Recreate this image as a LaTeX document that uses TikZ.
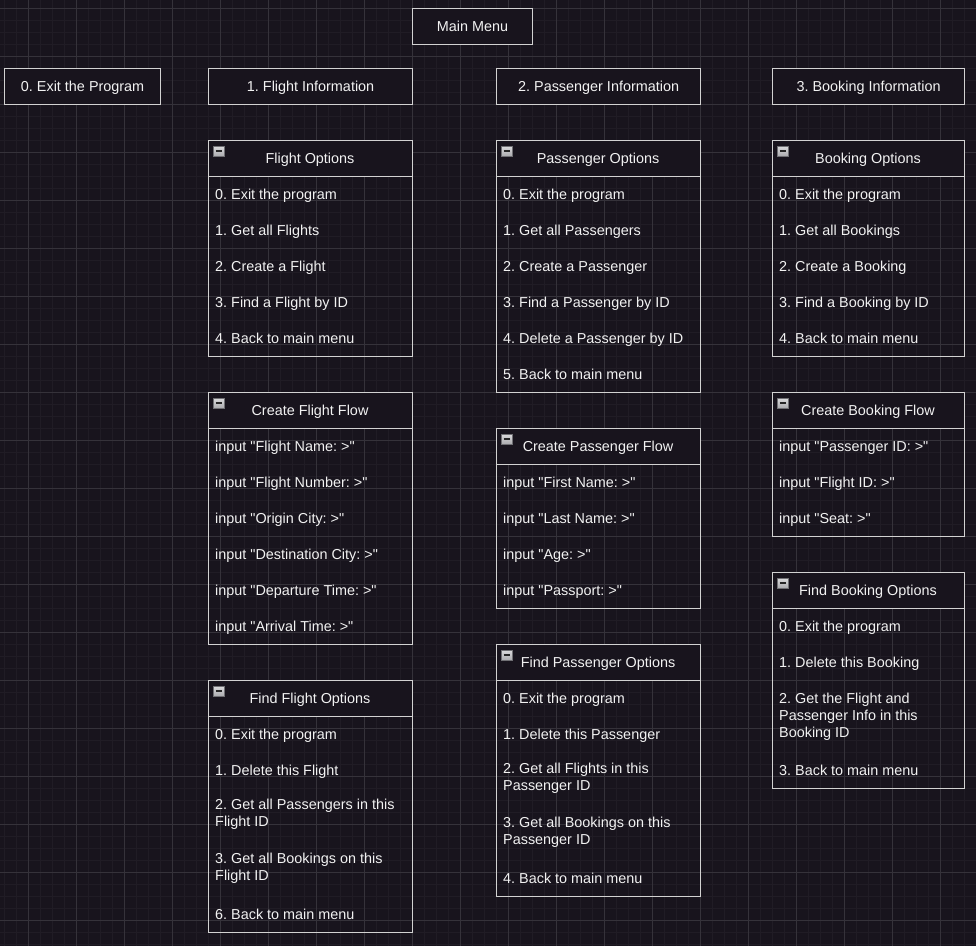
\documentclass[tikz,border=0pt]{standalone}
\usepackage{fontspec}
\setmainfont{Liberation Sans}[Ligatures=TeXOff]
\frenchspacing
\definecolor{bg}{HTML}{18141D}
\definecolor{gridminor}{HTML}{201C25}
\definecolor{gridmajor}{HTML}{35323A}
\definecolor{edge}{HTML}{D2D2D2}
\definecolor{ink}{HTML}{F2F2F2}
\definecolor{iconfill}{HTML}{BCBCC0}
\definecolor{iconedge}{HTML}{707074}
\begin{document}
\begin{tikzpicture}[x=1pt,y=-1pt,
  every node/.style={font=\fontsize{14.4}{17}\selectfont\frenchspacing, text=ink},
  plainbox/.style={draw=edge, line width=1.2pt, fill=bg, minimum width=#1,
    minimum height=36pt, inner sep=0pt, anchor=north west,
    text height=10.3pt, text depth=0pt},
  listhead/.style={draw=edge, line width=1.2pt, fill=bg, minimum width=#1,
    minimum height=36pt, inner sep=0pt, anchor=north west},
  headtext/.style={inner sep=0pt, anchor=center, text height=10.3pt, text depth=0pt},
  listbody/.style 2 args={draw=edge, line width=1.2pt, minimum width=#1,
    minimum height=#2, inner sep=0pt, anchor=north west},
  item/.style={anchor=north west, inner sep=0pt, align=left, yshift=6.75pt,
    execute at begin node=\strut},
  collapse/.pic={
    \draw[draw=iconedge, line width=0.8pt, top color=iconfill!55!white, bottom color=iconfill!90!black] (0,0) rectangle (11,10.5);
    \draw[line width=1.8pt, black!85] (2.5,5.25) -- (8.5,5.25);
  }
]
\useasboundingbox (0,0) rectangle (976,946);
\fill[bg] (0,0) rectangle (976,946);
\begin{scope}
\clip (0,0) rectangle (976,946);
\foreach \gx in {4,16,...,976} \draw[gridminor, line width=0.8pt] (\gx,0) -- (\gx,946);
\foreach \gy in {8,20,...,946} \draw[gridminor, line width=0.8pt] (0,\gy) -- (976,\gy);
\foreach \gx in {28,76,...,976} \draw[gridmajor, line width=0.8pt] (\gx,0) -- (\gx,946);
\foreach \gy in {8,56,...,946} \draw[gridmajor, line width=0.8pt] (0,\gy) -- (976,\gy);
\end{scope}

% top row
\node[plainbox=120pt] (main) at (412,8) {Main Menu};
\node[plainbox=156pt] (exit) at (4,68) {0. Exit the Program};
\node[plainbox=204pt] (finfo) at (208,68) {1. Flight Information};
\node[plainbox=204pt] (pinfo) at (496,68) {2. Passenger Information};
\node[plainbox=192pt] (binfo) at (772,68) {3. Booking Information};

% ---------- Flight column ----------
\node[listbody={204pt}{180pt}] (fobody) at (208,176) {};
\node[listhead=204pt] (fohead) at (208,140) {};
\node[headtext] (fotitle) at (310,158) {Flight Options};
\pic at (213,146) {collapse};
\node[item] (fo0) at (215,194) {0. Exit the program};
\node[item] (fo1) at (215,230) {1. Get all Flights};
\node[item] (fo2) at (215,266) {2. Create a Flight};
\node[item] (fo3) at (215,302) {3. Find a Flight by ID};
\node[item] (fo4) at (215,338) {4. Back to main menu};

\node[listbody={204pt}{216pt}] (cfbody) at (208,428) {};
\node[listhead=204pt] (cfhead) at (208,392) {};
\node[headtext] (cftitle) at (310,410) {Create Flight Flow};
\pic at (213,398) {collapse};
\node[item] (cf0) at (215,446) {input "Flight Name: >"};
\node[item] (cf1) at (215,482) {input "Flight Number: >"};
\node[item] (cf2) at (215,518) {input "Origin City: >"};
\node[item] (cf3) at (215,554) {input "Destination City: >"};
\node[item] (cf4) at (215,590) {input "Departure Time: >"};
\node[item] (cf5) at (215,626) {input "Arrival Time: >"};

\node[listbody={204pt}{216pt}] (ffbody) at (208,716) {};
\node[listhead=204pt] (ffhead) at (208,680) {};
\node[headtext] (fftitle) at (310,698) {Find Flight Options};
\pic at (213,686) {collapse};
\node[item] (ff0) at (215,734) {0. Exit the program};
\node[item] (ff1) at (215,770) {1. Delete this Flight};
\node[item] (ff2) at (215,806) {2. Get all Passengers in this\\Flight ID};
\node[item] (ff3) at (215,860) {3. Get all Bookings on this\\Flight ID};
\node[item] (ff4) at (215,914) {6. Back to main menu};

% ---------- Passenger column ----------
\node[listbody={204pt}{216pt}] (pobody) at (496,176) {};
\node[listhead=204pt] (pohead) at (496,140) {};
\node[headtext] (potitle) at (598,158) {Passenger Options};
\pic at (501,146) {collapse};
\node[item] (po0) at (503,194) {0. Exit the program};
\node[item] (po1) at (503,230) {1. Get all Passengers};
\node[item] (po2) at (503,266) {2. Create a Passenger};
\node[item] (po3) at (503,302) {3. Find a Passenger by ID};
\node[item] (po4) at (503,338) {4. Delete a Passenger by ID};
\node[item] (po5) at (503,374) {5. Back to main menu};

\node[listbody={204pt}{144pt}] (cpbody) at (496,464) {};
\node[listhead=204pt] (cphead) at (496,428) {};
\node[headtext] (cptitle) at (598,446) {Create Passenger Flow};
\pic at (501,434) {collapse};
\node[item] (cp0) at (503,482) {input "First Name: >"};
\node[item] (cp1) at (503,518) {input "Last Name: >"};
\node[item] (cp2) at (503,554) {input "Age: >"};
\node[item] (cp3) at (503,590) {input "Passport: >"};

\node[listbody={204pt}{216pt}] (fpbody) at (496,680) {};
\node[listhead=204pt] (fphead) at (496,644) {};
\node[headtext] (fptitle) at (598,662) {Find Passenger Options};
\pic at (501,650) {collapse};
\node[item] (fp0) at (503,698) {0. Exit the program};
\node[item] (fp1) at (503,734) {1. Delete this Passenger};
\node[item] (fp2) at (503,770) {2. Get all Flights in this\\Passenger ID};
\node[item] (fp3) at (503,824) {3. Get all Bookings on this\\Passenger ID};
\node[item] (fp4) at (503,878) {4. Back to main menu};

% ---------- Booking column ----------
\node[listbody={192pt}{180pt}] (bobody) at (772,176) {};
\node[listhead=192pt] (bohead) at (772,140) {};
\node[headtext] (botitle) at (868,158) {Booking Options};
\pic at (777,146) {collapse};
\node[item] (bo0) at (779,194) {0. Exit the program};
\node[item] (bo1) at (779,230) {1. Get all Bookings};
\node[item] (bo2) at (779,266) {2. Create a Booking};
\node[item] (bo3) at (779,302) {3. Find a Booking by ID};
\node[item] (bo4) at (779,338) {4. Back to main menu};

\node[listbody={192pt}{108pt}] (cbbody) at (772,428) {};
\node[listhead=192pt] (cbhead) at (772,392) {};
\node[headtext] (cbtitle) at (868,410) {Create Booking Flow};
\pic at (777,398) {collapse};
\node[item] (cb0) at (779,446) {input "Passenger ID: >"};
\node[item] (cb1) at (779,482) {input "Flight ID: >"};
\node[item] (cb2) at (779,518) {input "Seat: >"};

\node[listbody={192pt}{180pt}] (fbbody) at (772,608) {};
\node[listhead=192pt] (fbhead) at (772,572) {};
\node[headtext] (fbtitle) at (868,590) {Find Booking Options};
\pic at (777,578) {collapse};
\node[item] (fb0) at (779,626) {0. Exit the program};
\node[item] (fb1) at (779,662) {1. Delete this Booking};
\node[item] (fb2) at (779,700) {2. Get the Flight and\\Passenger Info in this\\Booking ID};
\node[item] (fb3) at (779,770) {3. Back to main menu};
\end{tikzpicture}
\end{document}
